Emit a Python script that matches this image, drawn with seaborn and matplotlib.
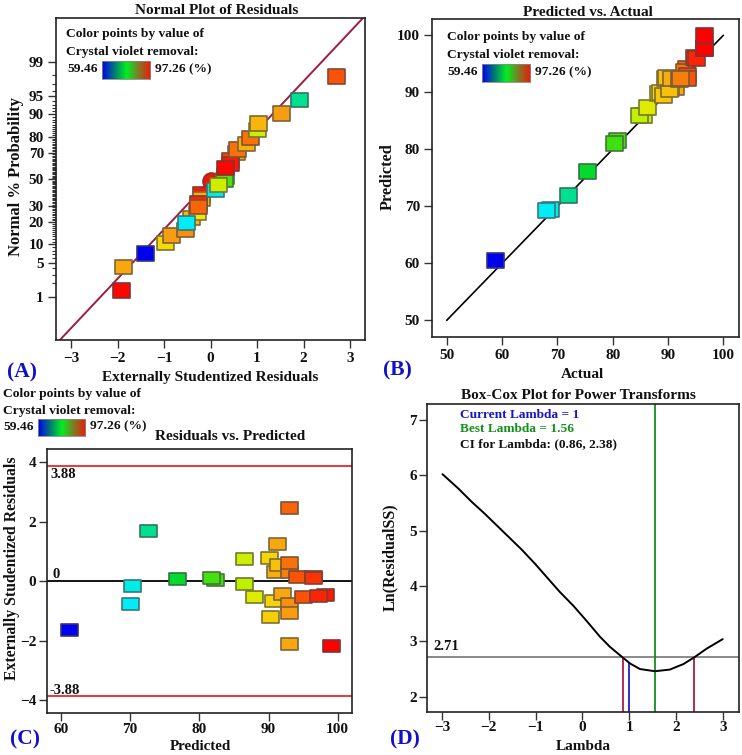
from statistics import NormalDist
import numpy as np
import pandas as pd
import matplotlib
matplotlib.use("Agg")
import matplotlib.pyplot as plt
from matplotlib.colors import LinearSegmentedColormap, Normalize
from matplotlib.markers import MarkerStyle
from matplotlib.path import Path
from matplotlib.ticker import NullFormatter
import seaborn as sns

# ---- data ----
lo_hue, hi_hue = 59.46, 97.26

# Panel A
a_resid = [-1.92, -1.87, -1.39, -0.96, -0.84, -0.53, -0.41, -0.28, -0.20, -0.20, -0.25, -0.26, -0.51,
           0.33, 0.29, 0.10, 0.18, 0.55, 0.42, 0.42, 0.33, 0.57, 0.78, 0.86, 1.00, 1.03, 1.52, 1.92, 2.71]
a_prob = [1.4, 4.2, 7.2, 10.4, 13.4, 16.0, 22.3, 25.3, 38.1, 34.9, 31.6, 29.2, 19.6,
          52.4, 49.7, 41.9, 45.5, 69.8, 64.6, 61.9, 58.9, 72.1, 75.7, 79.3, 83.6, 86.6, 90.4, 94.1, 97.9]
a_hue = [97, 91.5, 59.46, 88, 92, 92.5, 90.5, 87, 96.5, 91, 96, 94, 68,
         80.5, 81, 68.7, 85.5, 91, 95, 96.5, 97, 93.5, 91, 93.5, 85.5, 90.5, 92, 72, 94.5]
a_circle_resid = [0.0]
a_circle_prob = [48.4]
a_circle_hue = [96.8]
a_line_x = [-3.24, 3.27]
a_line_p = [0.0762, 99.926]
a_major = [1, 5, 10, 20, 30, 50, 70, 80, 90, 95, 99]

# Panel B
b_actual = [58.8, 68.7, 68.0, 72.05, 75.4, 80.8, 80.3, 85.5, 84.9, 86.2, 88.25, 88.6, 89.15, 91.4, 90.5,
            90.2, 93.4, 93.0, 93.5, 93.5, 89.6, 89.8, 90.7, 92.0, 92.2, 94.8, 95.2, 96.5, 96.5, 96.5]
b_pred = [60.5, 69.5, 69.2, 71.9, 76.1, 81.6, 81.05, 86.0, 86.0, 87.4, 89.8, 89.9, 89.5, 90.9, 90.7,
          90.5, 94.2, 93.6, 92.9, 92.5, 92.5, 92.6, 92.5, 92.2, 92.5, 96.1, 96.0, 97.7, 97.7, 99.9]
b_hue = [59.46, 68.7, 68.0, 72, 75.4, 80.8, 80.3, 85.5, 85, 86.2, 87.5, 88.6, 89.5, 91.5, 91,
         90, 94, 93.5, 95, 94.5, 90.5, 90, 91, 92.5, 93, 96, 96, 97.2, 97.2, 97.26]
b_line = [50, 100]

# Panel C
c_pred = [61.25, 70.3, 70.0, 72.7, 76.8, 82.3, 81.7, 86.5, 86.5, 88.0, 90.2, 90.3, 90.75, 91.3, 91.0,
          91.5, 92.05, 93.1, 93.1, 93.1, 93.1, 93.1, 93.1, 94.2, 95.1, 96.5, 96.5, 98.2, 97.2, 99.1]
c_resid = [-1.64, -0.15, -0.76, 1.68, 0.07, 0.03, 0.10, 0.75, -0.08, -0.53, 0.77, -1.21, -0.66, 1.26, 0.30,
           0.53, -0.44, 2.46, 0.32, 0.61, -0.77, -1.08, -2.12, 0.15, -0.52, 0.13, 0.11, -0.45, -0.50, -2.17]
c_hue = [59.46, 68.7, 68.0, 72, 75.4, 80.3, 80.8, 85.5, 85, 86.2, 88.5, 89, 88.5, 91.5, 91,
         90, 91.5, 94, 93, 93.5, 92.5, 92, 91.5, 94.5, 94.5, 96.5, 95.5, 96.5, 96, 97.26]
c_limit = 3.88

# Panel D
d_lambda = [-2.99, -2.65, -2.365, -2.08, -1.80, -1.58, -1.30, -1.01, -0.73, -0.49, -0.19, 0.09, 0.38, 0.59,
            0.86, 1.02, 1.23, 1.55, 1.87, 2.16, 2.39, 2.66, 3.0]
d_lnss = [6.02, 5.76, 5.52, 5.30, 5.07, 4.89, 4.66, 4.40, 4.13, 3.90, 3.64, 3.37, 3.08, 2.90,
          2.71, 2.60, 2.50, 2.46, 2.49, 2.59, 2.71, 2.87, 3.04]
d_current, d_best = 1.0, 1.56
d_ci = [0.86, 2.38]
d_level = 2.71

# ---- styling ----
W, H = 742, 755
sns.set_theme(style="ticks")
plt.rcParams["font.family"] = ["Liberation Serif", "DejaVu Serif"]
plt.rcParams["font.weight"] = "bold"
plt.rcParams["axes.labelweight"] = "bold"
fig = plt.figure(figsize=(W / 100, H / 100), dpi=100)

TICK = 11
LEG = 9.7

point_stops = [(0, "#0000f0"), (0.226, "#00f0f8"), (0.33, "#00e090"), (0.41, "#00d830"), (0.56, "#40e010"),
               (0.676, "#c0f000"), (0.73, "#f0e800"), (0.795, "#f8c808"), (0.86, "#f8a010"),
               (0.91, "#f86808"), (1, "#ff0000")]
point_cmap = LinearSegmentedColormap.from_list("points", point_stops)
bar_cmap = LinearSegmentedColormap.from_list("bar", [(0, "#0000f0"), (0.25, "#007878"), (0.5, "#00f020"),
                                                     (0.72, "#708828"), (1, "#f01808")])
norm = Normalize(lo_hue, hi_hue)


def axes_px(l, t, r, b, pad=3):
    ax = fig.add_axes([l / W, 1 - b / H, (r - l) / W, (b - t) / H])
    ax.tick_params(axis="both", which="major", labelsize=TICK, length=5.5, width=1, color="#333333", pad=pad)
    for s in ax.spines.values():
        s.set_visible(True)
        s.set_linewidth(1.2)
        s.set_color("#222222")
    return ax


def bold_ticks(ax):
    for t in ax.get_xticklabels() + ax.get_yticklabels():
        t.set_fontweight("bold")
        t.set_color("#111111")


def txt(x, y, s, size=LEG, color="#111111", ha="left", rotation=0):
    fig.text(x / W, 1 - y / H, s, fontsize=size, color=color, ha=ha, va="center", rotation=rotation,
             fontweight="bold", rotation_mode="anchor" if rotation else None)


def marks(ax, x, y, hue, w, h, circle=False):
    if circle:
        m = MarkerStyle("o")
        s = (h * 0.72) ** 2
    else:
        m = MarkerStyle(Path([(-w, -h), (w, -h), (w, h), (-w, h), (-w, -h)], closed=True))
        s = (max(w, h) * 0.72) ** 2
    df = pd.DataFrame({"x": x, "y": y, "hue": hue})
    edges = np.array(point_cmap(norm(df["hue"].to_numpy())))[:, :3] * 0.3 + 0.2
    sns.scatterplot(data=df, x="x", y="y", hue="hue", palette=point_cmap, hue_norm=(lo_hue, hi_hue), marker=m,
                    s=s, edgecolor=edges, linewidth=1.2, legend=False, ax=ax, zorder=3, clip_on=False)
    ax.set_xlabel("")
    ax.set_ylabel("")


def color_legend(x, y1, y2, y3, bar, right_x):
    txt(x, y1, "Color points by value of")
    txt(x, y2, "Crystal violet removal:")
    txt(x + 0.7, y3, "59.46")
    txt(right_x, y3, "97.26 (%)")
    cax = fig.add_axes([bar[0] / W, 1 - bar[3] / H, (bar[2] - bar[0]) / W, (bar[3] - bar[1]) / H])
    cax.imshow(np.linspace(0, 1, 128)[None, :], aspect="auto", cmap=bar_cmap)
    cax.set_xticks([])
    cax.set_yticks([])
    for s in cax.spines.values():
        s.set_linewidth(0.6)
        s.set_color("#888888")


# ---- Panel A ----
dist = NormalDist()


def probit(p):
    p = np.clip(np.asarray(p, dtype=float), 1e-6, 100 - 1e-6) / 100
    return np.vectorize(dist.inv_cdf, otypes=[float])(p)


def inv_probit(z):
    return np.vectorize(dist.cdf, otypes=[float])(np.asarray(z, dtype=float)) * 100


axA = axes_px(55.7, 18.3, 365, 340)
axA.set_yscale("function", functions=(probit, inv_probit))
sns.lineplot(x=a_line_x, y=a_line_p, color="#a01c3c", linewidth=1.4, ax=axA, zorder=2, sort=False)
marks(axA, a_circle_resid, a_circle_prob, a_circle_hue, 17, 17, circle=True)
marks(axA, a_resid, a_prob, a_hue, 17, 14.5)
axA.set_xlim(-3.33, 3.32)
axA.set_ylim(float(inv_probit(-3.17)), float(inv_probit(3.18)))
axA.set_xticks([-3, -2, -1, 0, 1, 2, 3])
axA.set_yticks(a_major)
axA.set_yticklabels([str(v) for v in a_major])
axA.set_yticks([p for p in range(2, 99) if p not in a_major], minor=True)
axA.tick_params(axis="y", which="minor", length=3.2, width=0.8, color="#333333", left=True)
axA.yaxis.set_minor_formatter(NullFormatter())
bold_ticks(axA)
txt(216.7, 10, "Normal Plot of Residuals", 11, ha="center")
txt(210, 377, "Externally Studentized Residuals", 11, ha="center")
txt(16, 176.7, "Normal % Probability", 12, ha="center", rotation=90)
txt(21.7, 372, "(A)", 15.5, "#1010c8", ha="center")
color_legend(66.5, 34, 51.7, 69.3, (101.7, 61, 150, 79), 155)

# ---- Panel B ----
axB = axes_px(431.7, 19.3, 738.7, 336.7)
sns.lineplot(x=b_line, y=b_line, color="black", linewidth=1.2, ax=axB, zorder=2)
marks(axB, b_actual, b_pred, b_hue, 17, 15)
axB.set_xlim(47.29, 102.77)
axB.set_ylim(47.13, 102.8)
axB.set_xticks(range(50, 101, 10))
axB.set_yticks(range(50, 101, 10))
bold_ticks(axB)
txt(587.7, 12, "Predicted vs. Actual", 11, ha="center")
txt(582.7, 375, "Actual", 11, ha="center")
txt(387.7, 177, "Predicted", 11.8, ha="center", rotation=90)
txt(397, 370.7, "(B)", 15.5, "#1010c8", ha="center")
color_legend(446.7, 36.7, 55, 72, (481.7, 64, 530, 81.7), 535)

# ---- Panel C ----
axC = axes_px(46.7, 449.3, 351.7, 712.7, pad=2)
axC.axhline(c_limit, color="#e8262a", linewidth=1.3, zorder=2)
axC.axhline(-c_limit, color="#e8262a", linewidth=1.3, zorder=2)
axC.axhline(0, color="black", linewidth=1.3, zorder=2)
marks(axC, c_pred, c_resid, c_hue, 17, 12)
axC.set_xlim(57.93, 102.02)
axC.set_ylim(-4.43, 4.44)
axC.set_xticks(range(60, 101, 10))
axC.set_yticks([-4, -2, 0, 2, 4])
bold_ticks(axC)
txt(230, 436.7, "Residuals vs. Predicted", 11, ha="center")
txt(200, 746.5, "Predicted", 10.8, ha="center")
txt(11.7, 568, "Externally Studentized Residuals", 11.3, ha="center", rotation=90)
txt(25, 739, "(C)", 15.5, "#1010c8", ha="center")
txt(50.7, 475, "3.88", 10.5)
txt(52.3, 575, "0", 10.5)
txt(50, 690, "-3.88", 10.5)
color_legend(3, 394, 411.3, 426.7, (37.7, 418.7, 85.3, 436), 90)

# ---- Panel D ----
axD = axes_px(426.7, 404.3, 738.7, 711.7, pad=1.5)
axD.axhline(d_level, color="#777777", linewidth=1.2, zorder=1)
sns.lineplot(x=d_lambda, y=d_lnss, color="black", linewidth=1.4, ax=axD, zorder=3)
ybot = 1.729
axD.vlines(d_best, ybot, 7.283, color="#12901c", linewidth=1.3, zorder=2)
axD.vlines(d_current, ybot, 2.62, color="#2020c8", linewidth=1.3, zorder=2)
axD.vlines(d_ci, ybot, d_level, color="#b01c40", linewidth=1.3, zorder=2)
axD.set_xlim(-3.328, 3.342)
axD.set_ylim(ybot, 7.283)
axD.set_xticks([-3, -2, -1, 0, 1, 2, 3])
axD.set_yticks([2, 3, 4, 5, 6, 7])
bold_ticks(axD)
txt(578.7, 395.7, "Box-Cox Plot for Power Transforms", 11, ha="center")
txt(583, 746.5, "Lambda", 11, ha="center")
txt(390.3, 556.7, "Ln(ResidualSS)", 11.5, ha="center", rotation=90)
txt(405.3, 739, "(D)", 15.5, "#1010c8", ha="center")
txt(460, 415, "Current Lambda = 1", 9.6, "#1515c8")
txt(460, 429.3, "Best Lambda = 1.56", 9.6, "#12901c")
txt(460, 444, "CI for Lambda: (0.86, 2.38)", 9.6)
txt(433.7, 646, "2.71", 10.5)

fig.savefig("out.png", dpi=100)
